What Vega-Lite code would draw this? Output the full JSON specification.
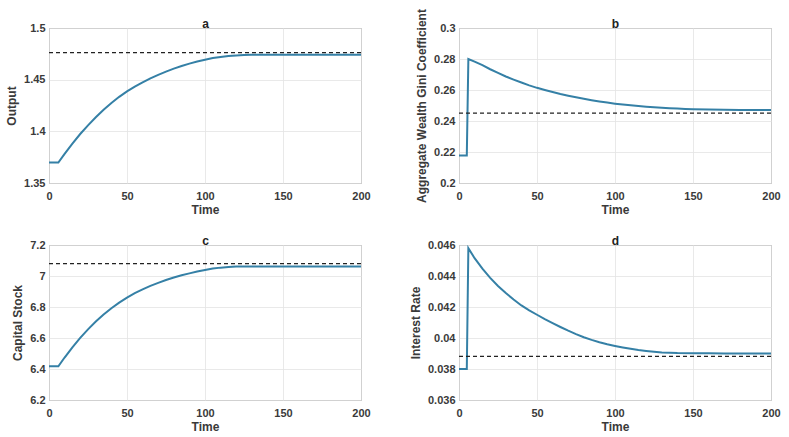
{
  "$schema": "https://vega.github.io/schema/vega-lite/v6.json",
  "autosize": {"type": "pad"},
  "padding": {"left": 5, "top": 8, "right": 6, "bottom": 4},
  "background": "white",
  "columns": 2,
  "bounds": "flush",
  "spacing": {"row": 62, "column": 98},
  "config": {
    "font": "Liberation Sans",
    "view": {"stroke": "#8a8a8a", "strokeWidth": 1},
    "scale": {"nice": false},
    "axis": {
      "labelFont": "Liberation Sans", "labelFontWeight": "bold", "labelFontSize": 11, "labelColor": "#3a3a3a",
      "titleFont": "Liberation Sans", "titleFontWeight": "bold", "titleFontSize": 12, "titleColor": "#3a3a3a",
      "grid": true, "gridColor": "#e3e3e3", "gridWidth": 0.8,
      "domain": false, "ticks": false, "labelPadding": 4, "labelFlush": false, "labelOverlap": false
    },
    "axisX": {"labelPadding": 7, "titlePadding": 3},
    "axisY": {"titlePadding": 5}
  },
  "datasets": {
    "output": [
      {"t": 0, "v": 1.3698}, {"t": 5, "v": 1.3698}, {"t": 6, "v": 1.3698}, {"t": 10, "v": 1.3781},
      {"t": 15, "v": 1.388}, {"t": 20, "v": 1.3974}, {"t": 25, "v": 1.4058}, {"t": 30, "v": 1.4136},
      {"t": 35, "v": 1.4209}, {"t": 40, "v": 1.4274}, {"t": 45, "v": 1.4334}, {"t": 50, "v": 1.4386},
      {"t": 55, "v": 1.4433}, {"t": 60, "v": 1.4474}, {"t": 65, "v": 1.4513}, {"t": 70, "v": 1.4547},
      {"t": 75, "v": 1.4578}, {"t": 80, "v": 1.4607}, {"t": 85, "v": 1.4632}, {"t": 90, "v": 1.4655},
      {"t": 95, "v": 1.4675}, {"t": 100, "v": 1.4693}, {"t": 105, "v": 1.4709}, {"t": 110, "v": 1.472},
      {"t": 115, "v": 1.4729}, {"t": 120, "v": 1.4735}, {"t": 125, "v": 1.4738}, {"t": 130, "v": 1.474},
      {"t": 140, "v": 1.474}, {"t": 150, "v": 1.474}, {"t": 160, "v": 1.474}, {"t": 170, "v": 1.474},
      {"t": 180, "v": 1.474}, {"t": 190, "v": 1.474}, {"t": 200, "v": 1.474}
    ],
    "gini": [
      {"t": 0, "v": 0.2178}, {"t": 5, "v": 0.2178}, {"t": 6, "v": 0.28}, {"t": 10, "v": 0.2783},
      {"t": 15, "v": 0.276}, {"t": 20, "v": 0.2734}, {"t": 25, "v": 0.271}, {"t": 30, "v": 0.2687},
      {"t": 35, "v": 0.2667}, {"t": 40, "v": 0.2648}, {"t": 45, "v": 0.263}, {"t": 50, "v": 0.2614},
      {"t": 55, "v": 0.26}, {"t": 60, "v": 0.2587}, {"t": 65, "v": 0.2574}, {"t": 70, "v": 0.2563},
      {"t": 75, "v": 0.2553}, {"t": 80, "v": 0.2543}, {"t": 85, "v": 0.2534}, {"t": 90, "v": 0.2526},
      {"t": 95, "v": 0.2519}, {"t": 100, "v": 0.2512}, {"t": 105, "v": 0.2506}, {"t": 110, "v": 0.2501},
      {"t": 115, "v": 0.2496}, {"t": 120, "v": 0.2492}, {"t": 125, "v": 0.2489}, {"t": 130, "v": 0.2486},
      {"t": 135, "v": 0.2483}, {"t": 140, "v": 0.248}, {"t": 145, "v": 0.2478}, {"t": 150, "v": 0.2476},
      {"t": 160, "v": 0.2474}, {"t": 170, "v": 0.2472}, {"t": 180, "v": 0.2471}, {"t": 190, "v": 0.2471},
      {"t": 200, "v": 0.2471}
    ],
    "capital": [
      {"t": 0, "v": 6.417}, {"t": 5, "v": 6.417}, {"t": 6, "v": 6.417}, {"t": 10, "v": 6.474},
      {"t": 15, "v": 6.54}, {"t": 20, "v": 6.601}, {"t": 25, "v": 6.656}, {"t": 30, "v": 6.706},
      {"t": 35, "v": 6.751}, {"t": 40, "v": 6.792}, {"t": 45, "v": 6.828}, {"t": 50, "v": 6.86},
      {"t": 55, "v": 6.889}, {"t": 60, "v": 6.914}, {"t": 65, "v": 6.936}, {"t": 70, "v": 6.956},
      {"t": 75, "v": 6.974}, {"t": 80, "v": 6.99}, {"t": 85, "v": 7.005}, {"t": 90, "v": 7.017},
      {"t": 95, "v": 7.029}, {"t": 100, "v": 7.039}, {"t": 105, "v": 7.048}, {"t": 110, "v": 7.054},
      {"t": 115, "v": 7.058}, {"t": 120, "v": 7.061}, {"t": 125, "v": 7.062}, {"t": 130, "v": 7.062},
      {"t": 140, "v": 7.062}, {"t": 150, "v": 7.062}, {"t": 160, "v": 7.062}, {"t": 170, "v": 7.062},
      {"t": 180, "v": 7.062}, {"t": 190, "v": 7.062}, {"t": 200, "v": 7.062}
    ],
    "rate": [
      {"t": 0, "v": 0.038}, {"t": 5, "v": 0.038}, {"t": 6, "v": 0.0458}, {"t": 10, "v": 0.04515},
      {"t": 15, "v": 0.04447}, {"t": 20, "v": 0.04388}, {"t": 25, "v": 0.04336}, {"t": 30, "v": 0.0429},
      {"t": 35, "v": 0.04248}, {"t": 40, "v": 0.0421}, {"t": 45, "v": 0.04178}, {"t": 50, "v": 0.0415},
      {"t": 55, "v": 0.04122}, {"t": 60, "v": 0.04096}, {"t": 65, "v": 0.04071}, {"t": 70, "v": 0.04047},
      {"t": 75, "v": 0.04025}, {"t": 80, "v": 0.04005}, {"t": 85, "v": 0.03988}, {"t": 90, "v": 0.03973},
      {"t": 95, "v": 0.0396}, {"t": 100, "v": 0.03949}, {"t": 105, "v": 0.03939}, {"t": 110, "v": 0.0393},
      {"t": 115, "v": 0.03922}, {"t": 120, "v": 0.03916}, {"t": 125, "v": 0.03911}, {"t": 130, "v": 0.03907},
      {"t": 135, "v": 0.03905}, {"t": 140, "v": 0.03903}, {"t": 150, "v": 0.03902}, {"t": 160, "v": 0.03901},
      {"t": 170, "v": 0.039}, {"t": 180, "v": 0.039}, {"t": 190, "v": 0.039}, {"t": 200, "v": 0.039}
    ]
  },
  "concat": [
    {
      "width": 312, "height": 155,
      "resolve": {"axis": {"x": "independent"}},
      "layer": [
        {
          "data": {"name": "output"},
          "mark": {"type": "line", "color": "#3580a6", "strokeWidth": 2},
          "encoding": {
            "x": {"field": "t", "type": "quantitative", "scale": {"domain": [0, 200], "nice": false}, "axis": {"values": [0, 50, 100, 150, 200], "title": "Time"}},
            "y": {"field": "v", "type": "quantitative", "scale": {"domain": [1.35, 1.5], "nice": false, "zero": false}, "axis": {"values": [1.35, 1.4, 1.45, 1.5], "format": "~g", "title": "Output"}}
          }
        },
        {
          "data": {"values": [{"t0": 0, "t1": 200, "ss": 1.4761}]},
          "mark": {"type": "rule", "color": "#222222", "strokeWidth": 1.3, "strokeDash": [4, 3]},
          "encoding": {
            "x": {"field": "t0", "type": "quantitative", "axis": {"orient": "top", "title": "a", "labels": false, "grid": false, "titlePadding": -2, "titleColor": "#222222"}},
            "x2": {"field": "t1"},
            "y": {"field": "ss", "type": "quantitative", "axis": {"values": [1.35, 1.4, 1.45, 1.5], "format": "~g", "title": "Output"}}
          }
        }
      ]
    },
    {
      "width": 312, "height": 155,
      "resolve": {"axis": {"x": "independent"}},
      "layer": [
        {
          "data": {"name": "gini"},
          "mark": {"type": "line", "color": "#3580a6", "strokeWidth": 2},
          "encoding": {
            "x": {"field": "t", "type": "quantitative", "scale": {"domain": [0, 200], "nice": false}, "axis": {"values": [0, 50, 100, 150, 200], "title": "Time"}},
            "y": {"field": "v", "type": "quantitative", "scale": {"domain": [0.2, 0.3], "nice": false, "zero": false}, "axis": {"values": [0.2, 0.22, 0.24, 0.26, 0.28, 0.3], "format": "~g", "title": "Aggregate Wealth Gini Coefficient"}}
          }
        },
        {
          "data": {"values": [{"t0": 0, "t1": 200, "ss": 0.2451}]},
          "mark": {"type": "rule", "color": "#222222", "strokeWidth": 1.3, "strokeDash": [4, 3]},
          "encoding": {
            "x": {"field": "t0", "type": "quantitative", "axis": {"orient": "top", "title": "b", "labels": false, "grid": false, "titlePadding": -2, "titleColor": "#222222"}},
            "x2": {"field": "t1"},
            "y": {"field": "ss", "type": "quantitative", "axis": {"values": [0.2, 0.22, 0.24, 0.26, 0.28, 0.3], "format": "~g", "title": "Aggregate Wealth Gini Coefficient"}}
          }
        }
      ]
    },
    {
      "width": 312, "height": 155,
      "resolve": {"axis": {"x": "independent"}},
      "layer": [
        {
          "data": {"name": "capital"},
          "mark": {"type": "line", "color": "#3580a6", "strokeWidth": 2},
          "encoding": {
            "x": {"field": "t", "type": "quantitative", "scale": {"domain": [0, 200], "nice": false}, "axis": {"values": [0, 50, 100, 150, 200], "title": "Time"}},
            "y": {"field": "v", "type": "quantitative", "scale": {"domain": [6.2, 7.2], "nice": false, "zero": false}, "axis": {"values": [6.2, 6.4, 6.6, 6.8, 7, 7.2], "format": "~g", "title": "Capital Stock"}}
          }
        },
        {
          "data": {"values": [{"t0": 0, "t1": 200, "ss": 7.08}]},
          "mark": {"type": "rule", "color": "#222222", "strokeWidth": 1.3, "strokeDash": [4, 3]},
          "encoding": {
            "x": {"field": "t0", "type": "quantitative", "axis": {"orient": "top", "title": "c", "labels": false, "grid": false, "titlePadding": -2, "titleColor": "#222222"}},
            "x2": {"field": "t1"},
            "y": {"field": "ss", "type": "quantitative", "axis": {"values": [6.2, 6.4, 6.6, 6.8, 7, 7.2], "format": "~g", "title": "Capital Stock"}}
          }
        }
      ]
    },
    {
      "width": 312, "height": 155,
      "resolve": {"axis": {"x": "independent"}},
      "layer": [
        {
          "data": {"name": "rate"},
          "mark": {"type": "line", "color": "#3580a6", "strokeWidth": 2},
          "encoding": {
            "x": {"field": "t", "type": "quantitative", "scale": {"domain": [0, 200], "nice": false}, "axis": {"values": [0, 50, 100, 150, 200], "title": "Time"}},
            "y": {"field": "v", "type": "quantitative", "scale": {"domain": [0.036, 0.046], "nice": false, "zero": false}, "axis": {"values": [0.036, 0.038, 0.04, 0.042, 0.044, 0.046], "format": "~g", "title": "Interest Rate"}}
          }
        },
        {
          "data": {"values": [{"t0": 0, "t1": 200, "ss": 0.03882}]},
          "mark": {"type": "rule", "color": "#222222", "strokeWidth": 1.3, "strokeDash": [4, 3]},
          "encoding": {
            "x": {"field": "t0", "type": "quantitative", "axis": {"orient": "top", "title": "d", "labels": false, "grid": false, "titlePadding": -2, "titleColor": "#222222"}},
            "x2": {"field": "t1"},
            "y": {"field": "ss", "type": "quantitative", "axis": {"values": [0.036, 0.038, 0.04, 0.042, 0.044, 0.046], "format": "~g", "title": "Interest Rate"}}
          }
        }
      ]
    }
  ]
}
